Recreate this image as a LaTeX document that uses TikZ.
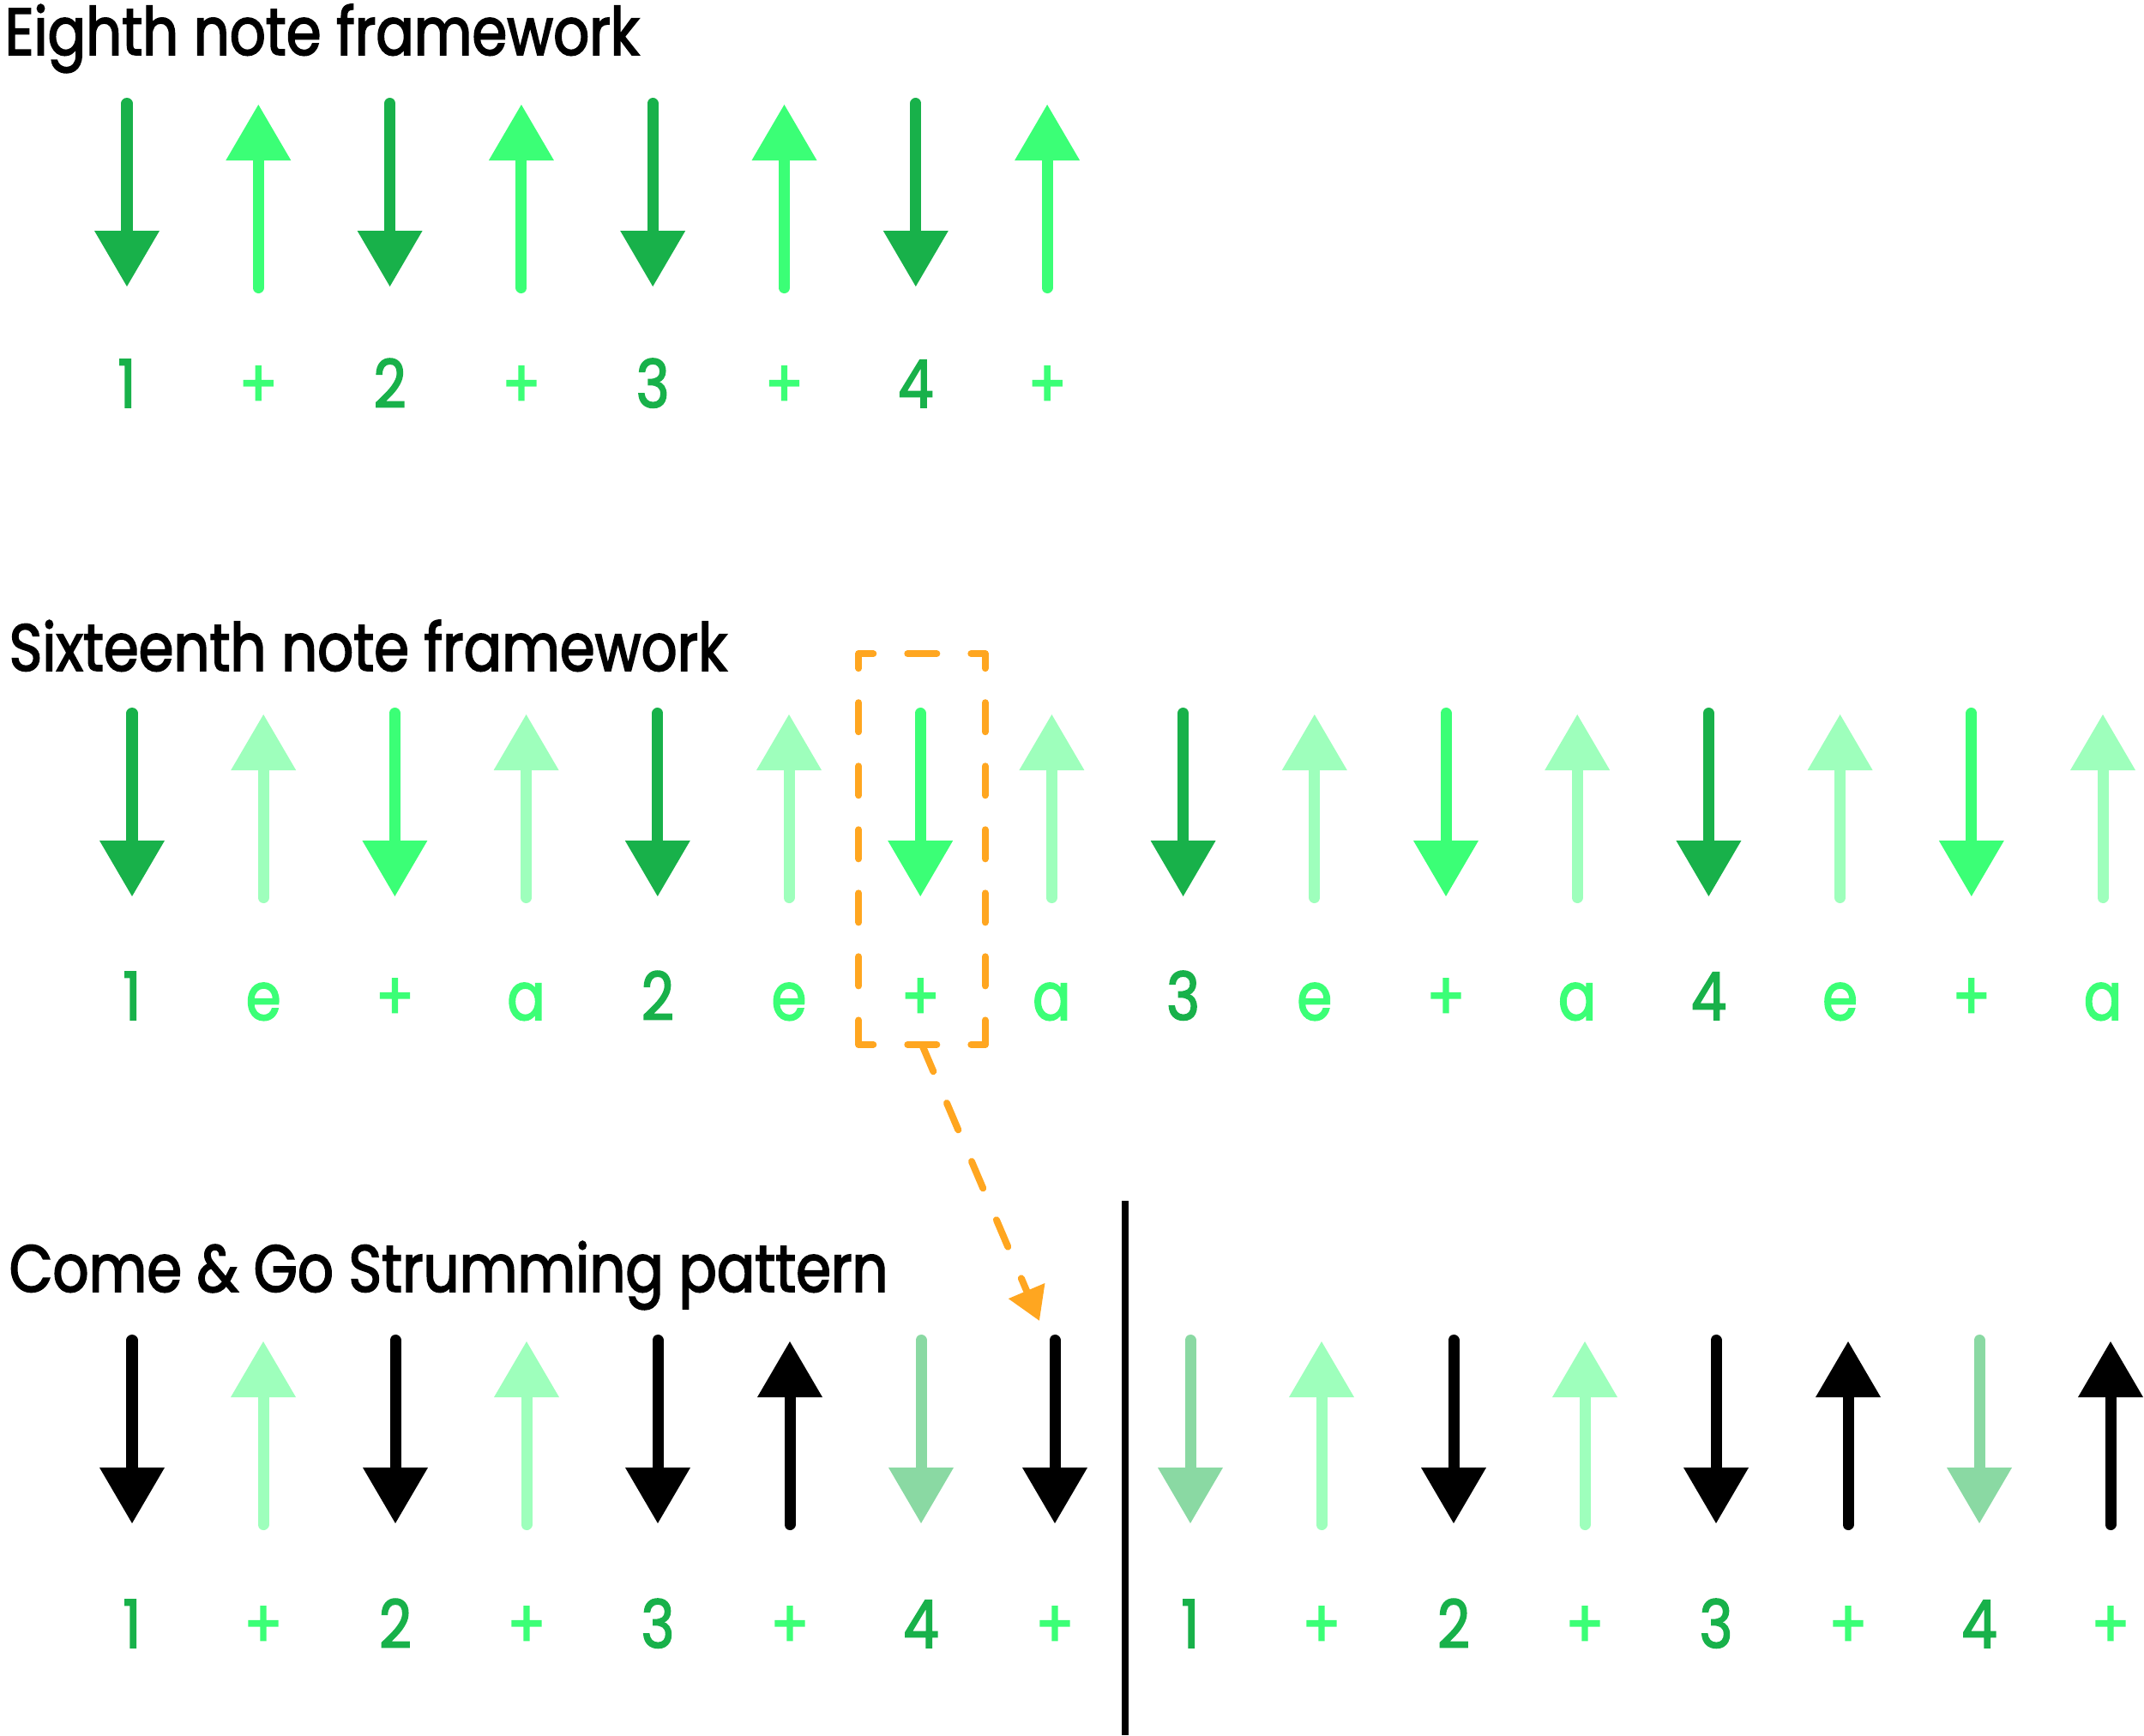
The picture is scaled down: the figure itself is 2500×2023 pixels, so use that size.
\documentclass[tikz,border=0pt]{standalone}
\usepackage{fontspec}
\setmainfont{Poppins}[FakeStretch=0.85, FakeBold=2.2]
\usetikzlibrary{arrows.meta}
\definecolor{dkg}{HTML}{18B14A}
\definecolor{brg}{HTML}{3BFF76}
\definecolor{ltg}{HTML}{9EFFBC}
\definecolor{mug}{HTML}{8AD9A3}
\definecolor{org}{HTML}{FFA620}
\tikzset{
  dn/.pic={\draw[line width=0.13cm,line cap=round] (0,6.5) -- (0,160);
           \fill (-38,155) -- (38,155) -- (0,220) -- cycle;},
  up/.pic={\draw[line width=0.13cm,line cap=round] (0,221.5) -- (0,68);
           \fill (-38,73) -- (38,73) -- (0,8) -- cycle;},
  lbl/.style={anchor=base, inner sep=0, font=\fontsize{22}{26}\selectfont},
  ttl/.style={anchor=base west, inner sep=0, font=\fontsize{22}{26}\selectfont},
  oside/.style={draw=org, line width=0.08cm, line cap=round,
                dash pattern=on 0.34cm off 0.40cm, dash phase=0.17cm},
  oarrow/.style={draw=org, line width=0.08cm, line cap=round,
                 dash pattern=on 0.34cm off 0.40cm,
                 -{Triangle[length=0.38cm,width=0.44cm,fill=org]}},
  sep/.style={draw=black, line width=0.08cm}
}
\begin{document}
\begin{tikzpicture}[x=0.01cm,y=-0.01cm]
\useasboundingbox (0,0) rectangle (2500,2023);

% ---------- titles
\node[ttl] (t1) at (5,64) {Eighth note framework};
\node[ttl] (t2) at (10,782) {Sixteenth note framework};
\node[ttl] (t3) at (10,1506) {Come \& Go Strumming pattern};

% ---------- row 1 (eighth notes)
\foreach \i in {0,2,4,6} \pic[color=dkg] at ({148+153.3*\i},114) {dn};
\foreach \i in {1,3,5,7} \pic[color=brg] at ({148+153.3*\i},114) {up};
\foreach \t/\c [count=\n from 0] in {1/dkg,+/brg,2/dkg,+/brg,3/dkg,+/brg,4/dkg,+/brg}
  \node[lbl,text=\c] (a\n) at ({148+153.3*\n},475) {\t};

% ---------- row 2 (sixteenth notes)
\foreach \i in {0,4,8,12} \pic[color=dkg] at ({154+153.2*\i},825) {dn};
\foreach \i in {2,6,10,14} \pic[color=brg] at ({154+153.2*\i},825) {dn};
\foreach \i in {1,3,...,15} \pic[color=ltg] at ({154+153.2*\i},825) {up};
\foreach \t/\c [count=\n from 0] in {1/dkg,e/brg,+/brg,a/brg,2/dkg,e/brg,+/brg,a/brg,
    3/dkg,e/brg,+/brg,a/brg,4/dkg,e/brg,+/brg,a/brg}
  \node[lbl,text=\c] (b\n) at ({154+153.2*\n},1189) {\t};

% ---------- orange highlight
\node[minimum width=1.46cm, minimum height=4.54cm, inner sep=0] (box) at (1075,990) {};
\draw[oside] (box.north west) -- (box.north east);
\draw[oside] (box.north west) -- (box.south west);
\draw[oside] (box.north east) -- (box.south east);
\draw[oside] (box.south west) -- (box.south east);
\coordinate (tgt) at (1212,1540);
\draw[oarrow] (box.south) -- (tgt);

% ---------- row 3 (strumming pattern)
\foreach \x [count=\n from 0] in {154,307,461,614,767,921,1074,1230,
    1388,1541,1695,1848,2001,2155,2308,2461}
  {\coordinate (p\n) at (\x,1556);}
\foreach \n in {0,2,4,7,10,12} \pic[color=black] at (p\n) {dn};
\foreach \n in {6,8,14} \pic[color=mug] at (p\n) {dn};
\foreach \n in {1,3,9,11} \pic[color=ltg] at (p\n) {up};
\foreach \n in {5,13,15} \pic[color=black] at (p\n) {up};
\foreach \x/\t/\c [count=\n from 0] in {154/1/dkg,307/+/brg,461/2/dkg,614/+/brg,
    767/3/dkg,921/+/brg,1074/4/dkg,1230/+/brg,
    1388/1/dkg,1541/+/brg,1695/2/dkg,1848/+/brg,
    2001/3/dkg,2155/+/brg,2308/4/dkg,2461/+/brg}
  \node[lbl,text=\c] (c\n) at (\x,1921) {\t};

% ---------- bar line
\coordinate (st) at (1312,1400);
\coordinate (sb) at (1312,2023);
\draw[sep] (st) -- (sb);
\end{tikzpicture}
\end{document}
